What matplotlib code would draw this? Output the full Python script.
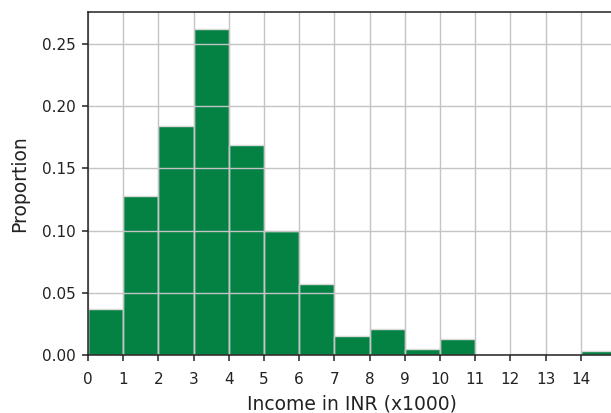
import matplotlib
matplotlib.use("Agg")
import matplotlib.pyplot as plt
import numpy as np

# income bins (x1000 INR) and proportion in each bin
bin_edges = list(range(0, 16))
proportions = [0.037, 0.128, 0.184, 0.262, 0.169, 0.100, 0.057, 0.015,
               0.021, 0.005, 0.013, 0.0, 0.001, 0.0, 0.003]
xticks = list(range(0, 15))

fig = plt.figure(figsize=(6.11, 4.13), dpi=100)
W, H = 611, 413
ax = fig.add_axes([88 / W, 1 - 355 / H, (616 - 88) / W, (355 - 12) / H])

ax.hist(bin_edges[:-1], bins=bin_edges, weights=proportions,
        color="#048244", edgecolor="#d9d9d9", linewidth=1)

ax.set_xlim(0, 15)
ax.set_ylim(0, max(proportions) * 1.052)
ax.set_xticks(xticks)
ax.set_yticks(np.arange(0, 0.26, 0.05))
ax.set_yticklabels(["0.00", "0.05", "0.10", "0.15", "0.20", "0.25"])
ax.grid(True, color="#c4c4c4", linewidth=1)
ax.set_axisbelow(False)

for s in ["left", "bottom", "top", "right"]:
    ax.spines[s].set_color("#222222")
    ax.spines[s].set_linewidth(1.1)
    ax.spines[s].set_zorder(5)

ax.tick_params(labelsize=11, colors="#222222", length=4, width=1.1, pad=5)
ax.tick_params(axis="x", pad=8)
ax.set_xlabel("Income in INR (x1000)", fontsize=13.5, color="#222222", labelpad=6)
ax.set_ylabel("Proportion", fontsize=13.5, color="#222222", labelpad=9)

fig.savefig("out.png", dpi=100)
